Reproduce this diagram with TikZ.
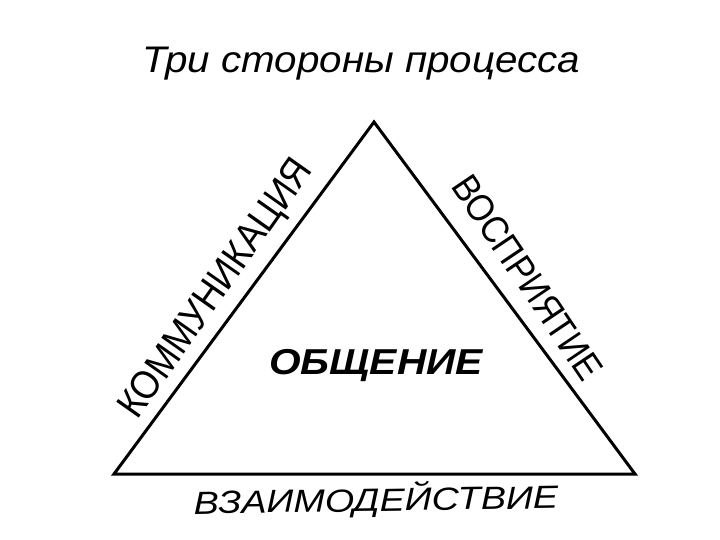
\documentclass[tikz,border=0pt]{standalone}
\usepackage{fontspec}
\setmainfont{Liberation Sans}
\newfontfamily\titlefont[FakeStretch=1.09]{Liberation Sans}
\newfontfamily\sidefont[FakeStretch=0.9]{Liberation Sans}
\newfontfamily\centerfont[FakeStretch=1.13]{Liberation Sans}
\newfontfamily\widefont[FakeStretch=1.18]{Liberation Sans}

\begin{document}
\begin{tikzpicture}[x=1pt, y=-1pt, inner sep=0pt]
		\tikzstyle{every node}=[align=center]
		\tikzstyle{side}=[font=\sidefont, anchor=base west]
			\useasboundingbox (0,0) rectangle (720,540);
			\coordinate (apex) at (374,122);
			\coordinate (left) at (114,474);
			\coordinate (right) at (635,474);

			\node[anchor=base] (title) at (361,73) {\titlefont\fontsize{37}{40}\selectfont\itshape Три стороны процесса};

			\draw[line width=3pt] (apex) -- (left) -- (right) -- cycle;

			\node[side, rotate=54.8] (komm) at (137,421) {\fontsize{40}{42}\selectfont КОММУНИКАЦИЯ};
			\node[side, rotate=-56] (vospr) at (450,186) {\fontsize{38}{40}\selectfont ВОСПРИЯТИЕ};
			\node (obsch) at (376,366) {\centerfont\fontsize{36}{38}\selectfont\bfseries\itshape ОБЩЕНИЕ};
			\node[rotate=0.9] (vzaim) at (376,500) {\widefont\fontsize{32}{36}\selectfont\itshape ВЗАИМОДЕЙСТВИЕ};
		\end{tikzpicture}
\end{document}
